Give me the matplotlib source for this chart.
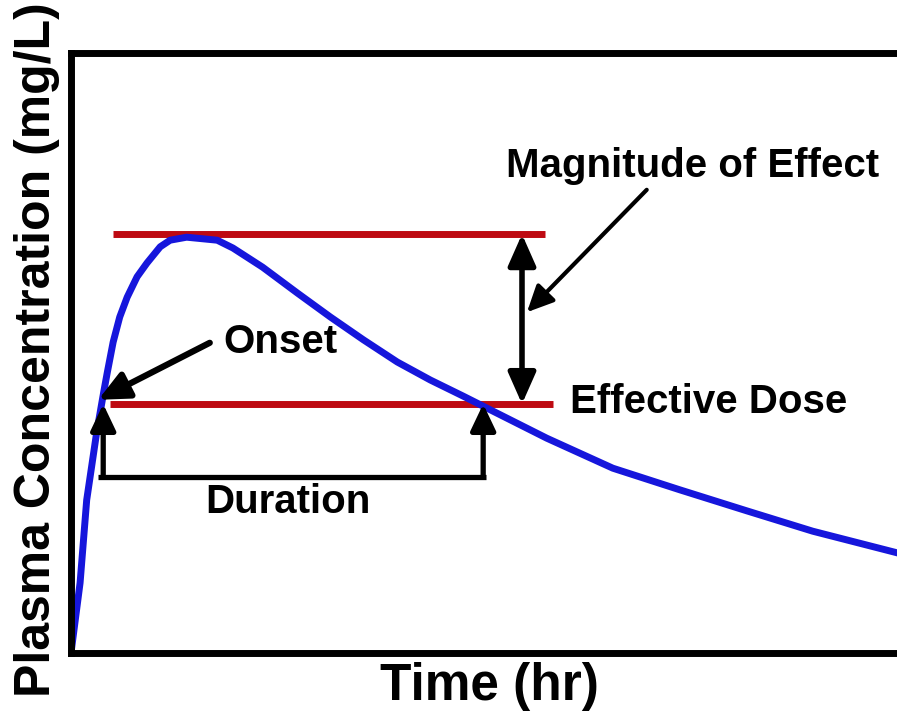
"""Pharmacokinetic curve: onset, duration and magnitude of effect."""

import matplotlib
matplotlib.use("Agg")
import matplotlib.pyplot as plt

plt.rcParams["font.family"] = ["Liberation Sans", "DejaVu Sans"]

# plasma concentration
time_hr = [0.0, 0.11, 0.19, 0.31, 0.40, 0.44, 0.51, 0.59, 0.68, 0.80, 0.92,
           1.08, 1.20, 1.40, 1.77, 1.96, 2.32, 2.74, 3.14, 3.54, 3.95, 4.35,
           4.75, 5.11, 5.76, 6.56, 7.37, 8.18, 8.98, 10.0]
conc_mg_l = [0.0, 1.17, 2.55, 3.67, 4.38, 4.68, 5.18, 5.60, 5.93, 6.27, 6.50,
             6.77, 6.88, 6.93, 6.88, 6.75, 6.43, 6.00, 5.60, 5.22, 4.85, 4.55,
             4.28, 4.03, 3.58, 3.08, 2.72, 2.37, 2.03, 1.67]

# reference levels (mg/L) and the span of the red lines (hr)
effective_dose = 4.15
peak_level = 6.98
peak_line_span = [0.51, 5.74]
dose_line_span = [0.47, 5.84]

# times where the curve crosses the effective dose
onset_hr = 0.39
offset_hr = 4.99

RED = "#BE0A12"
BLUE = "#1616DC"

fig = plt.figure(figsize=(8.97, 7.11), dpi=100)
ax = fig.add_axes([71 / 897, 58 / 711, 1 - 71 / 897, 600 / 711])
ax.set_xlim(0, 10)
ax.set_ylim(0, 10)
ax.set_xticks([])
ax.set_yticks([])
for side in ("left", "top", "bottom"):
    ax.spines[side].set_linewidth(5)
ax.spines["right"].set_visible(False)

ax.plot(peak_line_span, [peak_level] * 2, color=RED, lw=5, solid_capstyle="butt")
ax.plot(dose_line_span, [effective_dose] * 2, color=RED, lw=5, solid_capstyle="butt")
ax.plot(time_hr, conc_mg_l, color=BLUE, lw=5, solid_joinstyle="round")

arrow = dict(color="black", shrinkA=0, shrinkB=0, mutation_scale=20)

# magnitude of effect: double arrow between the two levels
ax.annotate("", xy=(5.46, peak_level), xytext=(5.46, effective_dose),
            arrowprops=dict(arrowstyle="<|-|>,head_length=0.95,head_width=0.42",
                            lw=4, **arrow))
ax.annotate("", xy=(5.52, 5.68), xytext=(6.97, 7.72),
            arrowprops=dict(arrowstyle="-|>,head_length=0.8,head_width=0.38",
                            lw=3, **arrow))
ax.text(5.27, 7.93, "Magnitude of Effect", fontsize=29, fontweight="bold",
        va="baseline")

# onset
ax.annotate("", xy=(0.33, 4.22), xytext=(1.68, 5.17),
            arrowprops=dict(arrowstyle="-|>,head_length=0.9,head_width=0.42",
                            lw=4.5, **arrow))
ax.text(1.84, 5.0, "Onset", fontsize=29, fontweight="bold", va="baseline")

ax.text(6.04, 4.0, "Effective Dose", fontsize=29, fontweight="bold",
        va="baseline")

# duration bracket
bracket_y = 2.93
ax.plot([onset_hr - 0.06, offset_hr + 0.03], [bracket_y] * 2, color="black",
        lw=3.8, solid_capstyle="butt")
for t in (onset_hr, offset_hr):
    ax.annotate("", xy=(t, effective_dose), xytext=(t, bracket_y),
                arrowprops=dict(arrowstyle="-|>,head_length=0.8,head_width=0.38",
                                lw=3.8, **arrow))
ax.text(1.62, 2.33, "Duration", fontsize=29, fontweight="bold", va="baseline")

fig.text(489 / 897, 1 - 700 / 711, "Time (hr)", fontsize=37, fontweight="bold",
         ha="center", va="baseline")
fig.text(37 / 897, 1 - 350 / 711, "Plasma Concentration (mg/L)", fontsize=36,
         fontweight="bold", rotation=90, ha="center", va="center")

fig.savefig("out.png", dpi=100)
